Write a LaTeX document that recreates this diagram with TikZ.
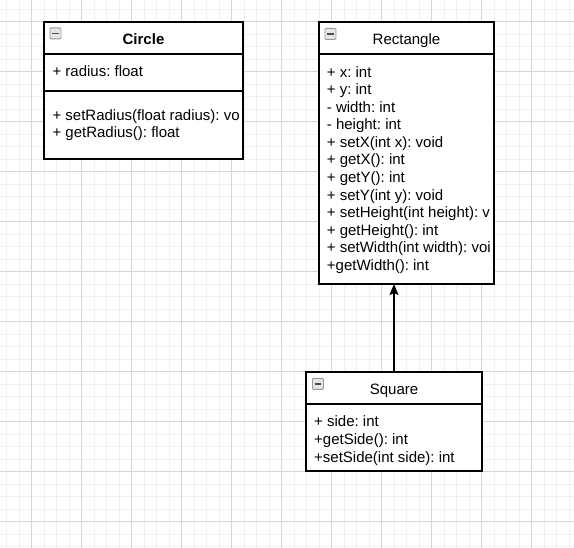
\documentclass[tikz,border=0pt]{standalone}
\usepackage{fontspec}
\setmainfont{Liberation Sans}
\usetikzlibrary{arrows.meta}
\frenchspacing
\tikzset{
  minorgrid/.style={draw=black!6, line width=0.8pt},
  majorgrid/.style={draw=black!16, line width=0.8pt},
  umlbox/.style={draw=black, fill=white, line width=1.2pt, anchor=north west, inner sep=0pt, outer sep=0pt},
  sepline/.style={draw=black, line width=1.2pt},
  txt/.style={anchor=base west, inner sep=0pt, font=\fontsize{15}{18}\selectfont},
  ttl/.style={anchor=base, inner sep=0pt, font=\fontsize{15}{18}\selectfont},
  icon/.style={draw=black!40, fill=black!10, rounded corners=1pt, line width=0.8pt, anchor=north west, minimum width=11pt, minimum height=11pt, inner sep=0pt},
  minus/.style={draw=black!70, line width=1.6pt},
  arr/.style={draw=black, line width=1.2pt, -{Stealth[length=11pt,width=9pt,inset=2pt]}}
}
\begin{document}
\begin{tikzpicture}[x=1pt,y=-1pt]
\useasboundingbox (0,0) rectangle (574,548);
\fill[white] (0,0) rectangle (574,548);
% grid
\foreach \x in {6.5,19,...,574} \draw[minorgrid] (\x,0) -- (\x,548);
\foreach \y in {9,21.5,...,548} \draw[minorgrid] (0,\y) -- (574,\y);
\foreach \x in {31.5,81.5,...,574} \draw[majorgrid] (\x,0) -- (\x,548);
\foreach \y in {21.5,71.5,...,548} \draw[majorgrid] (0,\y) -- (574,\y);

% Circle
\node[umlbox, minimum width=199pt, minimum height=137pt] (circ) at (44,22) {};
\coordinate (circh) at (44,54);
\coordinate (circd) at (44,91);
\draw[sepline] (circh) -- (circh -| circ.east);
\draw[sepline] (circd) -- (circd -| circ.east);
\node[icon] (circi) at (49.5,27.5) {};
\draw[minus] ([xshift=2.5pt]circi.west) -- ([xshift=-2.5pt]circi.east);
\node[ttl, font=\fontsize{15}{18}\selectfont\bfseries] (ct) at (143.5,44.5) {Circle};
\node[txt] (c1) at (52.3,77) {+ radius: float};
\node[txt] (c2) at (52.3,120.3) {+ setRadius(float radius): vo};
\node[txt] (c3) at (52.3,137.5) {+ getRadius(): float};

% Rectangle
\node[umlbox, minimum width=175pt, minimum height=262pt] (rect) at (319,22) {};
\coordinate (recth) at (319,54);
\draw[sepline] (recth) -- (recth -| rect.east);
\node[icon] (recti) at (324.5,28) {};
\draw[minus] ([xshift=2.5pt]recti.west) -- ([xshift=-2.5pt]recti.east);
\node[ttl] (rt) at (406.5,45) {Rectangle};
\node[txt] (r1) at (326.7,77.2) {+ x: int};
\node[txt] (r2) at (326.7,94.75) {+ y: int};
\node[txt] (r3) at (326.7,112.3) {- width: int};
\node[txt] (r4) at (326.7,129.85) {- height: int};
\node[txt] (r5) at (326.7,147.4) {+ setX(int x): void};
\node[txt] (r6) at (326.7,164.95) {+ getX(): int};
\node[txt] (r7) at (326.7,182.5) {+ getY(): int};
\node[txt] (r8) at (326.7,200.05) {+ setY(int y): void};
\node[txt] (r9) at (326.7,217.6) {+ setHeight(int height): v};
\node[txt] (r10) at (326.7,235.15) {+ getHeight(): int};
\node[txt] (r11) at (326.7,252.7) {+ setWidth(int width): voi};
\node[txt] (r12) at (326.7,270.25) {+getWidth(): int};

% Square
\node[umlbox, minimum width=176pt, minimum height=99pt] (sq) at (306,372) {};
\coordinate (sqh) at (306,404);
\draw[sepline] (sqh) -- (sqh -| sq.east);
\node[icon] (sqi) at (312,378) {};
\draw[minus] ([xshift=2.5pt]sqi.west) -- ([xshift=-2.5pt]sqi.east);
\node[ttl] (st) at (394,395) {Square};
\node[txt] (s1) at (314,427) {+ side: int};
\node[txt] (s2) at (314,444.7) {+getSide(): int};
\node[txt] (s3) at (314,462.4) {+setSide(int side): int};

% inheritance connector
\draw[arr] (sq.north) -- (sq.north |- rect.south);
\end{tikzpicture}
\end{document}
